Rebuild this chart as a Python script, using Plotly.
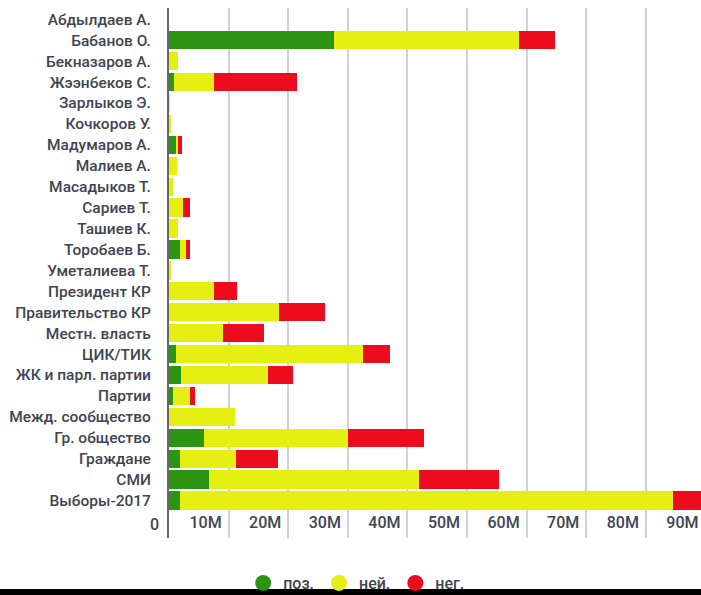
import plotly.graph_objects as go

categories = [
    "Абдылдаев А.", "Бабанов О.", "Бекназаров А.", "Жээнбеков С.", "Зарлыков Э.",
    "Кочкоров У.", "Мадумаров А.", "Малиев А.", "Масадыков Т.", "Сариев Т.",
    "Ташиев К.", "Торобаев Б.", "Уметалиева Т.", "Президент КР", "Правительство КР",
    "Местн. власть", "ЦИК/ТИК", "ЖК и парл. партии", "Партии", "Межд. сообщество",
    "Гр. общество", "Граждане", "СМИ", "Выборы-2017",
]

# values in millions
pos = [0, 27.65, 0, 0.92, 0, 0, 1.15, 0, 0, 0, 0, 1.8, 0, 0, 0,
       0, 1.2, 2.05, 0.7, 0, 5.85, 1.8, 6.75, 1.8]
neu = [0, 31.15, 1.5, 6.6, 0.05, 0.3, 0.4, 1.26, 0.6, 2.3, 1.5, 1.1, 0.35, 7.5, 18.4,
       9.03, 31.4, 14.5, 2.74, 11.0, 24.2, 9.5, 35.15, 82.8]
neg = [0, 6.0, 0, 14.0, 0, 0, 0.65, 0, 0, 1.2, 0, 0.6, 0, 3.95, 7.7,
       6.9, 4.4, 4.3, 0.9, 0, 12.7, 7.0, 13.55, 7.0]

series_names = ["поз.", "ней.", "нег."]
series_colors = ["#2b9412", "#e6ef12", "#ec0c1e"]

tick_vals = [10, 20, 30, 40, 50, 60, 70, 80, 90]
tick_text = ["10M", "20M", "30M", "40M", "50M", "60M", "70M", "80M", "90M"]
zero_label = "0"

FONT = "Roboto"
TXT = "#404550"

fig = go.Figure()
for name, vals, col in zip(series_names, [pos, neu, neg], series_colors):
    fig.add_trace(go.Bar(
        x=vals, y=categories, orientation="h", name=name,
        marker=dict(color=col, line=dict(width=0)),
        showlegend=False, hoverinfo="x+y+name",
    ))
# legend entries with round markers
for name, col in zip(series_names, series_colors):
    fig.add_trace(go.Scatter(
        x=[None], y=[None], mode="markers", name=name,
        marker=dict(color=col, size=20, symbol="circle"),
        showlegend=True,
    ))

fig.update_layout(
    width=710, height=595,
    margin=dict(l=169, r=0, t=8, b=57, autoexpand=False),
    barmode="stack", bargap=0.125,
    plot_bgcolor="white", paper_bgcolor="white",
    font=dict(family=FONT, size=16, color=TXT, weight=500),
    xaxis=dict(
        range=[0, 90.77], tickvals=tick_vals, ticktext=tick_text,
        showgrid=True, gridcolor="#d2d2d2", gridwidth=2,
        zeroline=False, showline=False, automargin=False,
        ticklabelposition="inside", ticklabelshift=-23, ticklabelstandoff=4,
        tickfont=dict(family=FONT, size=16, color=TXT, weight=500),
        ticks="",
    ),
    yaxis=dict(
        type="category", categoryorder="array", categoryarray=categories,
        range=[24.79, -0.54], automargin=False,
        showgrid=False, zeroline=False,
        showline=True, linecolor="#666666", linewidth=2,
        ticks="", ticklabelstandoff=13,
        tickfont=dict(family=FONT, size=15.5, color=TXT, weight=500),
    ),
    legend=dict(
        orientation="h", traceorder="normal",
        x=0.346, xanchor="center", y=-0.085, yanchor="middle",
        font=dict(family=FONT, size=16, color=TXT, weight=500),
        itemsizing="trace", bgcolor="rgba(0,0,0,0)",
    ),
    annotations=[dict(text=zero_label, xref="x", yref="paper", x=0, y=0,
                      xanchor="right", yanchor="bottom", xshift=-8, yshift=2,
                      showarrow=False,
                      font=dict(family=FONT, size=16, color=TXT, weight=500))],
    shapes=[dict(type="rect", xref="paper", yref="paper",
                 x0=-0.4, x1=1.05, y0=-0.14, y1=-0.0962,
                 fillcolor="black", line=dict(width=0), layer="above")],
)

fig.write_html(
    "out.html",
    config={"displayModeBar": False},
    post_script="document.body.style.margin='0';document.body.style.overflow='hidden';",
)
